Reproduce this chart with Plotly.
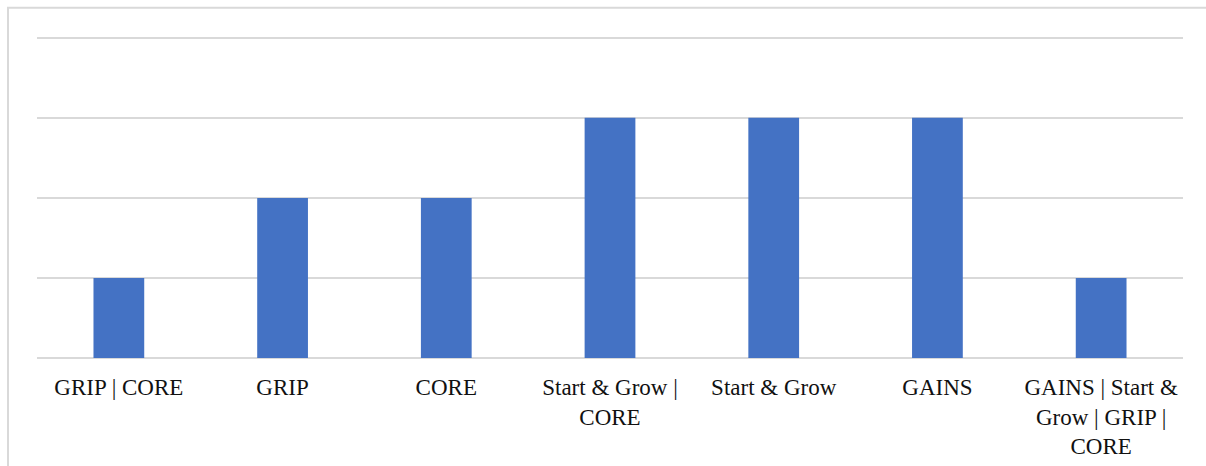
import plotly.graph_objects as go

categories = ["GRIP | CORE", "GRIP", "CORE", "Start & Grow |<br>CORE", "Start & Grow", "GAINS",
              "GAINS | Start &<br>Grow | GRIP |<br>CORE"]
values = [1, 2, 2, 3, 3, 3, 1]

W, H = 1206, 466
L, R, B = 37, 23, 108
YMAX = 4.06
ph = 320 * YMAX / 4
T = H - B - ph
pw = W - L - R

def px2x(px):
    return (px - L) / pw

def py2y(py):
    return (H - B - py) / ph

FONT = "'Times New Roman', 'Liberation Serif', serif"

fig = go.Figure(go.Bar(x=categories, y=values, marker_color="#4472C4", marker_line_width=0))

fig.update_layout(
    width=W, height=H,
    margin=dict(l=L, r=R, t=T, b=B, autoexpand=False),
    paper_bgcolor="white", plot_bgcolor="white",
    bargap=0.69,
    showlegend=False,
    font=dict(family=FONT, size=23, color="#000000"),
    xaxis=dict(showline=False, showgrid=False, ticks="outside", ticklen=8, tickcolor="rgba(0,0,0,0)",
               tickangle=0, automargin=False, tickfont=dict(family=FONT, size=23, color="#111111")),
    yaxis=dict(range=[0, YMAX], tickvals=[0, 1, 2, 3, 4], showticklabels=False, showgrid=True,
               gridcolor="#d9d9d9", gridwidth=2, zeroline=True, zerolinecolor="#d9d9d9",
               zerolinewidth=2, showline=False, fixedrange=True, automargin=False),
    shapes=[
        dict(type="rect", xref="paper", yref="paper",
             x0=px2x(8), x1=px2x(1212), y0=py2y(472), y1=py2y(8),
             line=dict(color="#d9d9d9", width=2), fillcolor="rgba(0,0,0,0)", layer="below"),
    ],
)

fig.write_html("out.html")
